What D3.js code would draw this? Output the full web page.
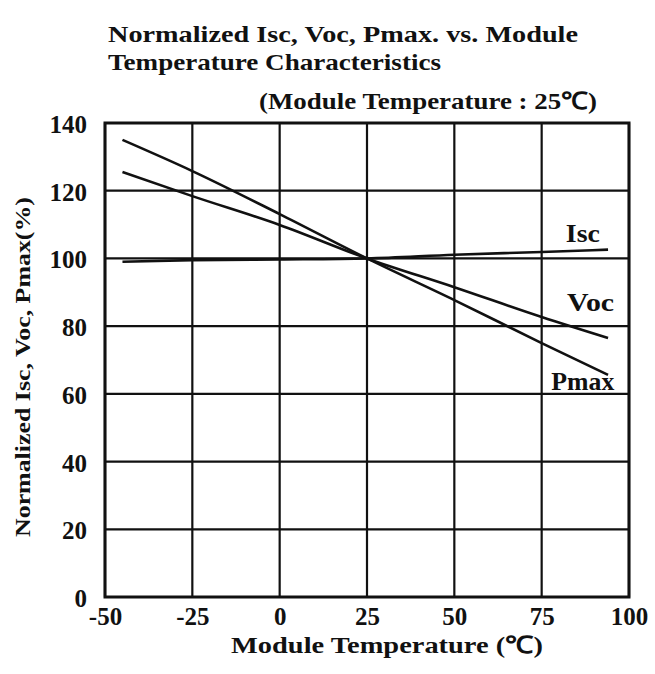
<!DOCTYPE html>
<html>
<head>
<meta charset="utf-8">
<script src="https://cdn.jsdelivr.net/npm/d3@7"></script>
<style>
  html, body { margin: 0; padding: 0; background: #fff; }
  svg text { font-family: "Liberation Serif", "Times New Roman", serif; fill: #111; }
</style>
</head>
<body>
<svg id="chart" width="655" height="674"></svg>
<script>
// Temperature coefficients of a PV module, normalized to 25 °C
const temps = [-45, -25, 0, 25, 50, 75, 94];
const iscValues  = [99.0, 99.5, 99.7, 100, 101.1, 101.9, 102.6];
const vocValues  = [125.5, 118.4, 109.9, 100, 91.5, 82.7, 76.5];
const pmaxValues = [135.0, 125.8, 113.1, 100, 87.7, 75.0, 65.6];
const seriesNames = ["Isc", "Voc", "Pmax"];
const xTicks = [-50, -25, 0, 25, 50, 75, 100];
const yTicks = [0, 20, 40, 60, 80, 100, 120, 140];

const svg = d3.select("#chart");
const margin = { left: 105, right: 26, top: 123, bottom: 77 };
const W = 655, H = 674;

const x = d3.scaleLinear().domain([-50, 100]).range([margin.left, W - margin.right]);
const y = d3.scaleLinear().domain([0, 140]).range([H - margin.bottom, margin.top]);

// Grid
const grid = svg.append("g").attr("stroke", "#111").attr("stroke-width", 2.2);
grid.selectAll("line.v").data(xTicks).join("line")
  .attr("x1", d => x(d)).attr("x2", d => x(d))
  .attr("y1", y(0)).attr("y2", y(140));
grid.selectAll("line.h").data(yTicks).join("line")
  .attr("x1", x(-50)).attr("x2", x(100))
  .attr("y1", d => y(d)).attr("y2", d => y(d));

// Frame
svg.append("rect")
  .attr("x", x(-50)).attr("y", y(140))
  .attr("width", x(100) - x(-50)).attr("height", y(0) - y(140))
  .attr("fill", "none").attr("stroke", "#111").attr("stroke-width", 3);

// Axes (labels only; the frame and grid draw the lines)
const fmt = d => String(d); // plain hyphen for negatives
const xAxis = svg.append("g")
  .attr("transform", `translate(0,${y(0)})`)
  .call(d3.axisBottom(x).tickValues(xTicks).tickFormat(fmt).tickSize(0).tickPadding(10));
xAxis.select(".domain").remove();
xAxis.selectAll("text")
  .attr("font-size", 25).attr("font-weight", "bold")
  .attr("dy", "0.71em")
  .style("font-family", "'Liberation Serif', serif");

const yAxis = svg.append("g")
  .attr("transform", `translate(${x(-50)},0)`)
  .call(d3.axisLeft(y).tickValues(yTicks).tickFormat(fmt).tickSize(0).tickPadding(18));
yAxis.select(".domain").remove();
yAxis.selectAll("text")
  .attr("font-size", 25).attr("font-weight", "bold")
  .attr("dy", "0.38em")
  .style("font-family", "'Liberation Serif', serif");

// Curves
const series = [iscValues, vocValues, pmaxValues];
const line = d3.line()
  .x((d, i) => x(temps[i]))
  .y(d => y(d))
  .curve(d3.curveMonotoneX);

svg.append("g").selectAll("path").data(series).join("path")
  .attr("d", d => line(d))
  .attr("fill", "none").attr("stroke", "#111").attr("stroke-width", 2.6);

// Curve labels
const labelPos = [
  { name: seriesNames[0], t: 86.8, v: 105.0, w: 34 },
  { name: seriesNames[1], t: 89.0, v: 84.5, w: 47 },
  { name: seriesNames[2], t: 86.8, v: 61.0, w: 63 }
];
svg.append("g").selectAll("text").data(labelPos).join("text")
  .attr("x", d => x(d.t)).attr("y", d => y(d.v))
  .attr("text-anchor", "middle")
  .attr("font-size", 25)
  .attr("textLength", d => d.w).attr("lengthAdjust", "spacingAndGlyphs")
  .style("font-weight", "bold")
  .text(d => d.name);

// Titles
const title = svg.append("g").attr("font-size", 24).attr("font-weight", "bold");
title.append("text").attr("x", 108).attr("y", 42)
  .attr("textLength", 470).attr("lengthAdjust", "spacingAndGlyphs")
  .text("Normalized Isc, Voc, Pmax. vs. Module");
title.append("text").attr("x", 108).attr("y", 70)
  .attr("textLength", 333).attr("lengthAdjust", "spacingAndGlyphs")
  .text("Temperature Characteristics");
title.append("text").attr("x", 259).attr("y", 109)
  .attr("textLength", 338).attr("lengthAdjust", "spacingAndGlyphs")
  .text("(Module Temperature : 25\u2103)");

// Axis titles
svg.append("text").attr("x", 231).attr("y", 653)
  .attr("font-size", 24).attr("font-weight", "bold")
  .attr("textLength", 312).attr("lengthAdjust", "spacingAndGlyphs")
  .text("Module Temperature (\u2103)");

svg.append("text")
  .attr("transform", `translate(30,537) rotate(-90)`)
  .attr("font-size", 22).attr("font-weight", "bold")
  .attr("textLength", 340).attr("lengthAdjust", "spacingAndGlyphs")
  .text("Normalized Isc, Voc, Pmax(%)");
</script>
</body>
</html>
